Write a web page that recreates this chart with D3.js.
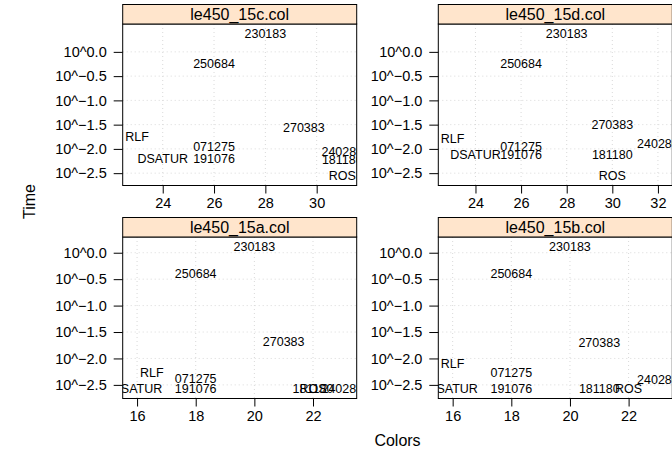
<!DOCTYPE html>
<html>
<head>
<meta charset="utf-8">
<script src="https://cdn.jsdelivr.net/npm/d3@7"></script>
<style>
  body { margin: 0; background: #ffffff; }
  text { font-family: "Liberation Sans", Arial, Helvetica, sans-serif; fill: #000; }
</style>
</head>
<body>
<svg id="chart" width="672" height="452"></svg>
<script>
// Labels plotted at (colors used, log10 run time) for each algorithm / version
const algorithms = ["230183", "250684", "270383", "071275", "191076", "181180", "240280", "RLF", "DSATUR", "ROS"];
const instances = ["le450_15a.col", "le450_15b.col", "le450_15c.col", "le450_15d.col"];

// Number of colours found, per instance (same order as algorithms)
const colors15a = [20, 18, 21, 18, 18, 22, 23, 16.5, 16, 22];
const colors15b = [20, 18, 21, 18, 18, 21, 23, 16, 16, 22];
const colors15c = [28, 26, 29.5, 26, 26, 31, 31, 23, 24, 31];
const colors15d = [28, 26, 30, 26, 26, 30, 32, 23, 24, 30];

// log10 of the run time in seconds, per instance
const logTime15a = [0.11, -0.41, -1.68, -2.39, -2.57, -2.57, -2.57, -2.28, -2.57, -2.57];
const logTime15b = [0.11, -0.41, -1.70, -2.28, -2.57, -2.57, -2.41, -2.10, -2.57, -2.57];
const logTime15c = [0.37, -0.25, -1.56, -1.97, -2.20, -2.22, -2.07, -1.76, -2.20, -2.55];
const logTime15d = [0.37, -0.26, -1.51, -1.97, -2.12, -2.12, -1.89, -1.80, -2.12, -2.55];

// Tick values
const yTickValues = [0, -0.5, -1, -1.5, -2, -2.5];
const xTicks15a = [16, 18, 20, 22];
const xTicks15b = [16, 18, 20, 22];
const xTicks15c = [24, 26, 28, 30];
const xTicks15d = [24, 26, 28, 30, 32];

const xLabel = "Colors";
const yLabel = "Time";

const panels = [
  { name: instances[0], colors: colors15a, logTime: logTime15a, xTicks: xTicks15a, row: 1, col: 0 },
  { name: instances[1], colors: colors15b, logTime: logTime15b, xTicks: xTicks15b, row: 1, col: 1 },
  { name: instances[2], colors: colors15c, logTime: logTime15c, xTicks: xTicks15c, row: 0, col: 0 },
  { name: instances[3], colors: colors15d, logTime: logTime15d, xTicks: xTicks15d, row: 0, col: 1 }
];

// Layout of the 2x2 trellis
const colLeft = [122.7, 438.3];
const panelW = 234;
const rowTop = [4.5, 217.5];
const stripH = 19.5;
const panelH = 161.5;
const pad = 0.07; // axis padding on each side, as a fraction of the data range

const svg = d3.select("#chart");
const defs = svg.append("defs");

function padded(ext) {
  const d = ext[1] - ext[0];
  return [ext[0] - pad * d, ext[1] + pad * d];
}

const fmtExp = d3.format(".1f");

panels.forEach((p, i) => {
  const x0 = colLeft[p.col];
  const sTop = rowTop[p.row];
  const y0 = sTop + stripH;

  const x = d3.scaleLinear().domain(padded(d3.extent(p.colors))).range([x0, x0 + panelW]);
  const y = d3.scaleLinear().domain(padded(d3.extent(p.logTime))).range([y0 + panelH, y0]);

  const clipId = "clip" + i;
  defs.append("clipPath").attr("id", clipId)
    .append("rect").attr("x", x0).attr("y", y0).attr("width", panelW).attr("height", panelH);

  const g = svg.append("g");

  // reference grid
  const grid = g.append("g").attr("clip-path", `url(#${clipId})`)
    .attr("stroke", "#d9d9d9").attr("stroke-width", 1).attr("stroke-dasharray", "1,3");
  grid.selectAll("line.h").data(yTickValues).join("line")
    .attr("x1", x0).attr("x2", x0 + panelW)
    .attr("y1", d => y(d)).attr("y2", d => y(d));
  grid.selectAll("line.v").data(p.xTicks).join("line")
    .attr("y1", y0).attr("y2", y0 + panelH)
    .attr("x1", d => x(d)).attr("x2", d => x(d));

  // text labels
  g.append("g").attr("clip-path", `url(#${clipId})`)
    .selectAll("text").data(algorithms).join("text")
    .attr("x", (d, j) => x(p.colors[j]))
    .attr("y", (d, j) => y(p.logTime[j]))
    .attr("text-anchor", "middle")
    .attr("dominant-baseline", "central")
    .attr("font-size", 12.5)
    .text(d => d);

  // panel frame
  g.append("rect").attr("x", x0).attr("y", y0).attr("width", panelW).attr("height", panelH)
    .attr("fill", "none").attr("stroke", "#000").attr("stroke-width", 1);

  // strip
  g.append("rect").attr("x", x0).attr("y", sTop).attr("width", panelW).attr("height", stripH)
    .attr("fill", "#ffe5cc").attr("stroke", "#000").attr("stroke-width", 1);
  g.append("text").attr("x", x0 + panelW / 2).attr("y", sTop + stripH / 2 + 0.5)
    .attr("text-anchor", "middle").attr("dominant-baseline", "central")
    .attr("font-size", 16).text(p.name);

  // bottom axis
  const xAxis = d3.axisBottom(x).tickValues(p.xTicks).tickSize(8).tickPadding(4).tickFormat(d3.format("d"));
  const ax = g.append("g").attr("transform", `translate(0,${y0 + panelH})`).call(xAxis);
  ax.select(".domain").remove();
  ax.selectAll("text").attr("font-size", 14.5).attr("font-family", "Liberation Sans, Arial, sans-serif");

  // left axis
  const yAxis = d3.axisLeft(y).tickValues(yTickValues).tickSize(9).tickPadding(7)
    .tickFormat(d => "10^" + fmtExp(d));
  const ay = g.append("g").attr("transform", `translate(${x0},0)`).call(yAxis);
  ay.select(".domain").remove();
  ay.selectAll("text").attr("font-size", 14.5).attr("font-family", "Liberation Sans, Arial, sans-serif");
});

// axis titles
svg.append("text").attr("x", (colLeft[0] + colLeft[1] + panelW) / 2).attr("y", 440)
  .attr("text-anchor", "middle").attr("dominant-baseline", "central")
  .attr("font-size", 16).text(xLabel);
svg.append("text")
  .attr("transform", `translate(29,${(rowTop[0] + rowTop[1] + stripH + panelH) / 2}) rotate(-90)`)
  .attr("text-anchor", "middle").attr("dominant-baseline", "central")
  .attr("font-size", 16).text(yLabel);
</script>
</body>
</html>
